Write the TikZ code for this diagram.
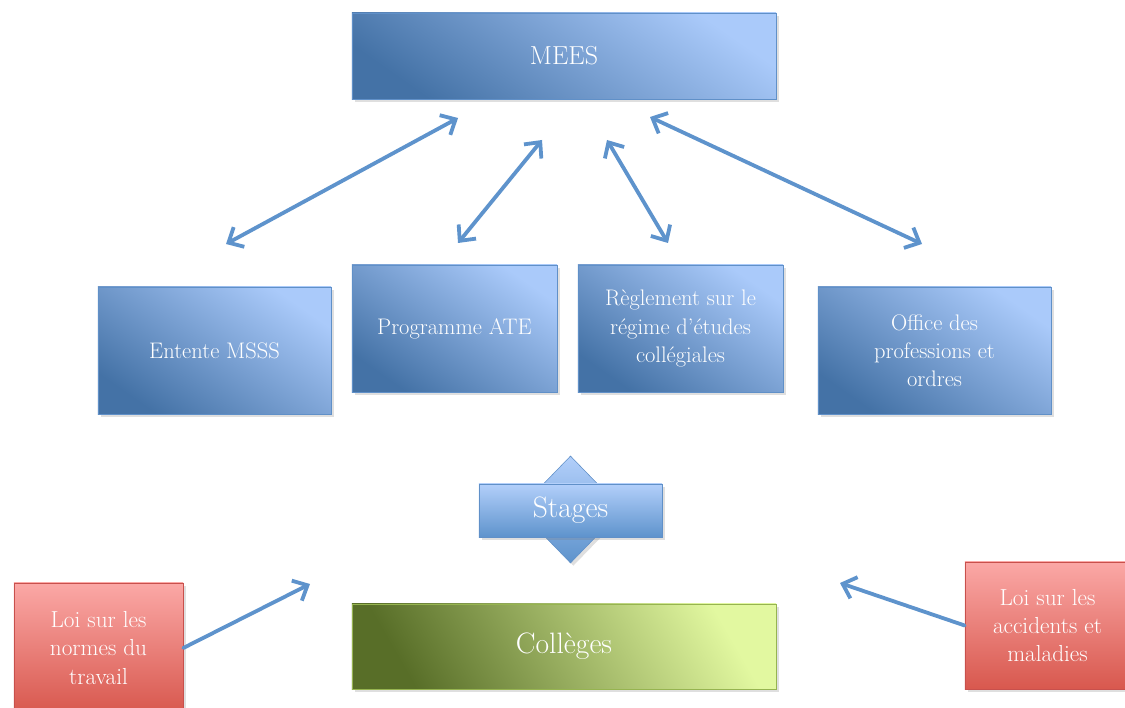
\documentclass[tikz,border=0pt]{standalone}
\usepackage{tikz}
\usetikzlibrary{shapes.geometric,arrows.meta,shadows}

\definecolor{boxdark}{RGB}{68,114,166}
\definecolor{boxlight}{RGB}{170,202,250}
\definecolor{boxline}{RGB}{96,144,200}
\definecolor{arrblue}{RGB}{94,147,204}
\definecolor{reddark}{RGB}{216,88,78}
\definecolor{redlight}{RGB}{251,168,166}
\definecolor{redline}{RGB}{200,80,76}
\definecolor{greendark}{RGB}{88,110,40}
\definecolor{greenlight}{RGB}{226,248,160}
\definecolor{greenline}{RGB}{150,180,80}

\begin{document}
\begin{tikzpicture}[x=0.025cm,y=-0.025cm,
  bluebox/.style={draw=boxline, thin, top color=boxlight, bottom color=boxdark, shading angle=-35,
                  drop shadow={shadow xshift=2pt,shadow yshift=-2pt,opacity=0.25},
                  text=white, align=center, inner sep=2pt, font=\fontsize{16}{20}\selectfont},
  redbox/.style={draw=redline, thin, top color=redlight, bottom color=reddark,
                 drop shadow={shadow xshift=2pt,shadow yshift=-2pt,opacity=0.25},
                 text=white, align=center, inner sep=2pt, font=\fontsize{16.5}{20}\selectfont},
  greenbox/.style={draw=greenline, thin, top color=greenlight, bottom color=greendark, shading angle=-60,
                   drop shadow={shadow xshift=2pt,shadow yshift=-2pt,opacity=0.25},
                   text=white, align=center, font=\fontsize{21}{25}\selectfont},
  stagebox/.style={draw=boxline, thin, top color=boxlight!90!white, bottom color=arrblue, text=white,
                   font=\fontsize{21}{25}\selectfont},
  link/.style={draw=arrblue, line width=2.7pt, line cap=round,
               >={Straight Barb[length=3mm,width=5.6mm]}}]
\clip (0,0) rectangle (1125,708);

\node[bluebox, minimum width=10.6cm, minimum height=2.15cm] (mees) at (564,56) {\fontsize{18.5}{22}\selectfont MEES};

\node[bluebox, minimum width=5.825cm, minimum height=3.175cm] (msss) at (214.5,350.5) {Entente MSSS};
\node[bluebox, minimum width=5.125cm, minimum height=3.175cm] (ate) at (454.5,328.5) {Programme ATE};
\node[bluebox, minimum width=5.125cm, minimum height=3.175cm] (regime) at (680.5,328.5) {R\`eglement sur le\\r\'egime d'\'etudes\\coll\'egiales};
\node[bluebox, minimum width=5.825cm, minimum height=3.175cm] (office) at (934.5,350.5) {Office des\\professions et\\ordres};

\node[diamond, stagebox, inner sep=0, minimum width=2.6cm, minimum height=2.675cm,
      drop shadow={shadow xshift=2pt,shadow yshift=-2pt,opacity=0.25}] (fleche) at (570.5,509.5) {};
\node[stagebox, minimum width=4.575cm, minimum height=1.325cm,
      drop shadow={shadow xshift=2pt,shadow yshift=-2pt,opacity=0.25}] (stages) at (570.5,510.5) {Stages};

\node[greenbox, minimum width=10.6cm, minimum height=2.125cm] (colleges) at (564,646.5) {Coll\`eges};

\node[redbox, minimum width=4.225cm, minimum height=3.25cm] (normes) at (98.5,648) {Loi sur les\\normes du\\travail};
\node[redbox, minimum width=4.125cm, minimum height=3.175cm] (accidents) at (1047.5,625.5) {Loi sur les\\accidents et\\maladies};

\coordinate (m1) at (458,118);
\coordinate (m2) at (542,140);
\coordinate (m3) at (607,140);
\coordinate (m4) at (650,117);
\coordinate (b1) at (226,244);
\coordinate (b2) at (458,243);
\coordinate (b3) at (668,243);
\coordinate (b4) at (922,244);
\coordinate (c1) at (310,584);
\coordinate (c2) at (840,583);

\draw[link, <->] (m1) -- (b1);
\draw[link, <->] (m2) -- (b2);
\draw[link, <->] (m3) -- (b3);
\draw[link, <->] (m4) -- (b4);
\draw[link, ->] (normes.east) -- (c1);
\draw[link, ->] (accidents.west) -- (c2);
\end{tikzpicture}
\end{document}
